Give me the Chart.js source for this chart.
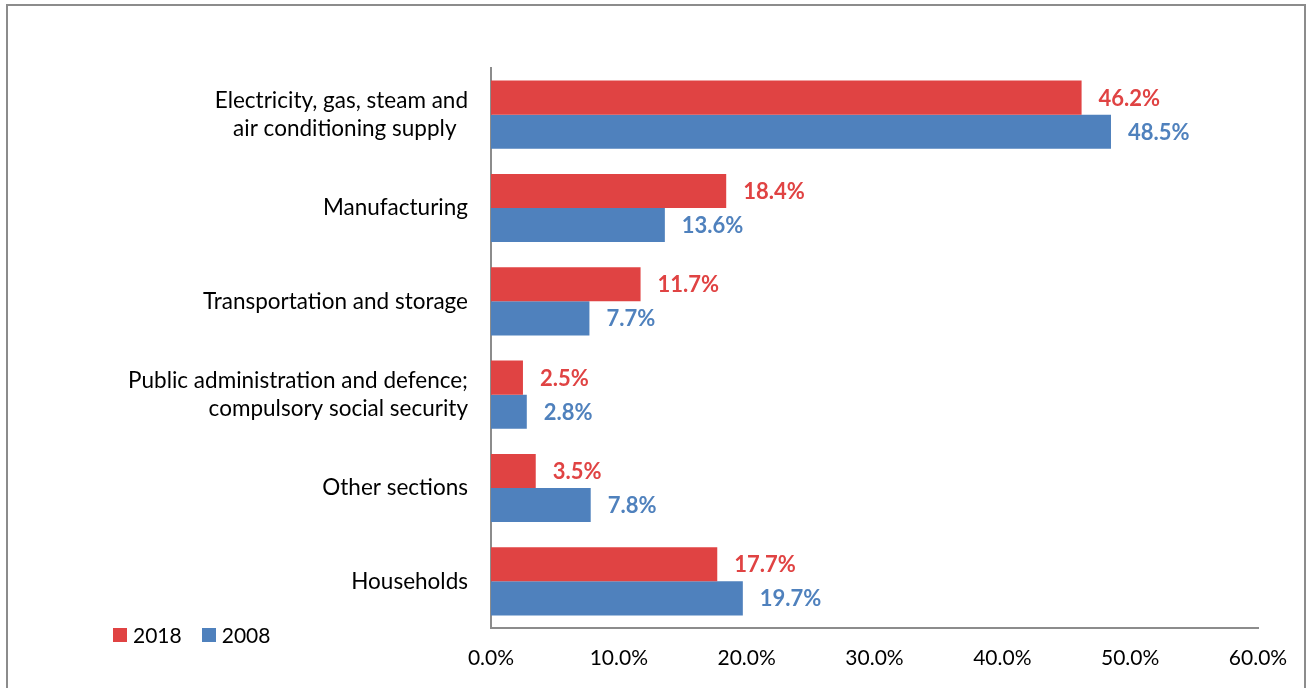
<!DOCTYPE html>
<html lang="en">
<head>
    <meta charset="UTF-8">
    <title>Energy consumption by section</title>
    <script src="https://cdn.jsdelivr.net/npm/chart.js"></script>
    <style>
        body {
            margin: 0;
            padding: 0;
            background: #fff;
            font-family: 'Lato', sans-serif;
        }
        #frame {
            position: absolute;
            left: 6px;
            top: 4px;
            width: 1296px;
            height: 700px;
            border: 2px solid #8c8c8c;
        }
        #wrap {
            position: absolute;
            left: 0;
            top: 0;
            width: 1306px;
            height: 688px;
        }
        #legend {
            position: absolute;
            left: 113px;
            top: 622px;
            font-size: 21px;
            color: #000;
            display: flex;
            align-items: center;
        }
        .sw {
            display: inline-block;
            width: 14px;
            height: 14px;
            margin-right: 6px;
        }
        .item {
            display: flex;
            align-items: center;
            margin-right: 20px;
        }
    </style>
</head>
<body>
    <div id="frame"></div>
    <div id="wrap"><canvas id="myChart" width="1306" height="688"></canvas></div>
    <div id="legend">
        <span class="item"><span class="sw" style="background:#e04343"></span>2018</span>
        <span class="item"><span class="sw" style="background:#4f81bd"></span>2008</span>
    </div>
    <script>
const categories = [
    ['Electricity, gas, steam and', 'air conditioning supply  '],
    'Manufacturing',
    'Transportation and storage',
    ['Public administration and defence;', 'compulsory social security'],
    'Other sections',
    'Households'
];
const values2018 = [46.2, 18.4, 11.7, 2.5, 3.5, 17.7];
const values2008 = [48.5, 13.6, 7.7, 2.8, 7.8, 19.7];
const xTicks = [0, 10, 20, 30, 40, 50, 60];

const red = '#e04343';
const blue = '#4f81bd';

// draws the value next to each bar end
const valueLabels = {
    id: 'valueLabels',
    afterDatasetsDraw(chart) {
        const ctx = chart.ctx;
        ctx.save();
        ctx.font = 'bold 22px Lato';
        ctx.textBaseline = 'middle';
        ctx.textAlign = 'left';
        chart.data.datasets.forEach((ds, i) => {
            const meta = chart.getDatasetMeta(i);
            ctx.fillStyle = ds.backgroundColor;
            meta.data.forEach((bar, j) => {
                ctx.fillText(ds.data[j].toFixed(1) + '%', bar.x + 17, bar.y + 1);
            });
        });
        ctx.restore();
    }
};

const ctx = document.getElementById('myChart').getContext('2d');
new Chart(ctx, {
    type: 'bar',
    data: {
        labels: categories,
        datasets: [
            { label: '2018', data: values2018, backgroundColor: red, borderWidth: 0 },
            { label: '2008', data: values2008, backgroundColor: blue, borderWidth: 0 }
        ]
    },
    options: {
        indexAxis: 'y',
        responsive: false,
        animation: false,
        categoryPercentage: 0.73,
        barPercentage: 1,
        layout: { padding: { left: 0, top: 68, right: 48, bottom: 0 } },
        plugins: {
            legend: { display: false },
            tooltip: { enabled: false }
        },
        scales: {
            x: {
                min: 0,
                max: 60,
                afterFit(scale) { scale.height = 60; },
                afterBuildTicks(scale) { scale.ticks = xTicks.map(v => ({ value: v })); },
                grid: { display: false, drawTicks: false },
                border: { display: true, color: '#8c8c8c', width: 2 },
                ticks: {
                    padding: 18,
                    color: '#000',
                    font: { family: 'Lato', size: 21 },
                    callback: v => v.toFixed(1) + '%'
                }
            },
            y: {
                afterFit(scale) { scale.width = 491; },
                grid: { display: false, drawTicks: false },
                border: { display: true, color: '#8c8c8c', width: 2 },
                ticks: {
                    padding: 23,
                    color: '#000',
                    font: { family: 'Lato', size: 22.5, lineHeight: 1.25 }
                }
            }
        }
    },
    plugins: [valueLabels]
});
    </script>
</body>
</html>
